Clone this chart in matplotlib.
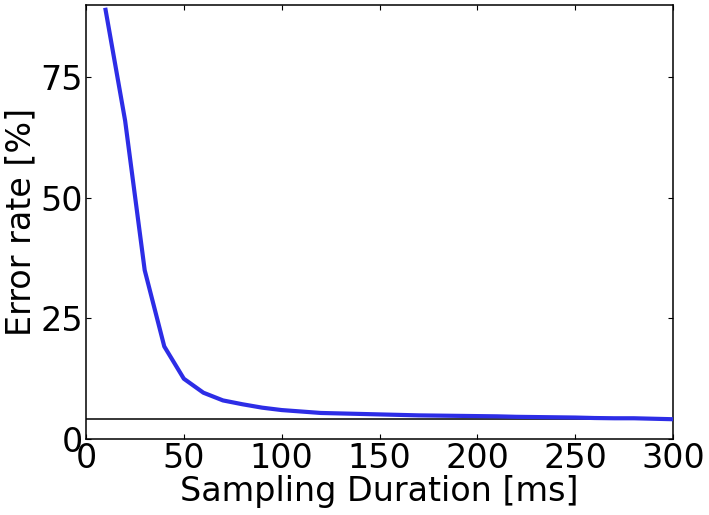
import matplotlib
matplotlib.use("Agg")
import matplotlib.pyplot as plt

duration_ms = [10, 20, 30, 40, 50, 60, 70, 80, 90, 100,
               110, 120, 130, 140, 150, 160, 170, 180, 190, 200,
               210, 220, 230, 240, 250, 260, 270, 280, 290, 300]
error_rate = [89.0, 66.0, 35.0, 19.2, 12.5, 9.6, 8.0, 7.2, 6.5, 6.0,
              5.7, 5.4, 5.3, 5.2, 5.1, 5.0, 4.9, 4.85, 4.8, 4.75,
              4.7, 4.6, 4.55, 4.5, 4.45, 4.35, 4.3, 4.3, 4.2, 4.1]
baseline = 4.25
x_ticks = [0, 50, 100, 150, 200, 250, 300]
y_ticks = [0, 25, 50, 75]

fig = plt.figure(figsize=(7.09, 5.15), dpi=100)
ax = fig.add_axes([86/709, 76/515, 587/709, 434/515])

ax.plot(duration_ms, error_rate, color='#2d2de6', lw=3, zorder=3)
ax.axhline(baseline, color='black', lw=1.1, zorder=2)

ax.set_xlim(0, 300)
ax.set_ylim(0, 90)
ax.set_xticks(x_ticks)
ax.set_yticks(y_ticks)
ax.tick_params(direction='in', top=True, right=True, length=3.5, width=0.8,
               labelsize=24)
ax.tick_params(axis='x', pad=2)
ax.tick_params(axis='y', pad=2)
for s in ax.spines.values():
    s.set_linewidth(1.1)

ax.set_xlabel('Sampling Duration [ms]', fontsize=24, labelpad=0)
ax.set_ylabel('Error rate [%]', fontsize=24, labelpad=2)

fig.savefig('out.png', dpi=100)
